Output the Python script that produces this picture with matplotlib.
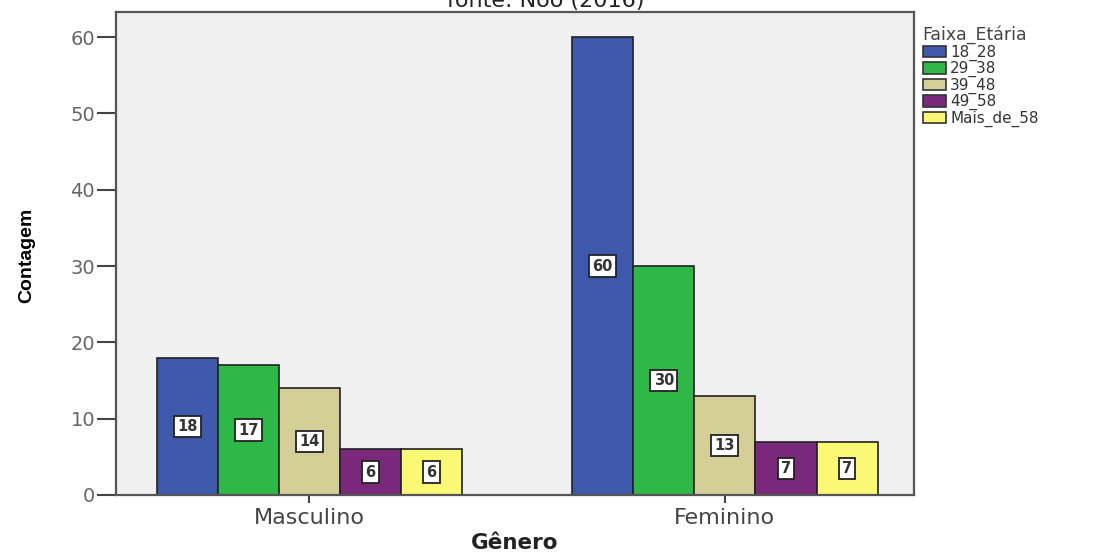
"""
Contagem por gênero e faixa etária (barras agrupadas)
"""

import matplotlib
matplotlib.use('Agg')
import matplotlib.pyplot as plt
from matplotlib.patches import Patch
import numpy as np

plt.rcParams['font.family'] = ['DejaVu Sans']

generos = ['Masculino', 'Feminino']
faixas = ['18_28', '29_38', '39_48', '49_58', 'Mais_de_58']
masculino = [18, 17, 14, 6, 6]
feminino = [60, 30, 13, 7, 7]
cores = ['#3e58ac', '#2eb848', '#d4cf96', '#79287c', '#fbf873']

fig = plt.figure(figsize=(10.93, 5.54), dpi=100)
ax = fig.add_axes([116 / 1093, 59 / 554, (914 - 116) / 1093, (495 - 12) / 554])
ax.set_facecolor('#f0f0f0')

x = np.arange(len(generos))
largura = 0.147
contagens = np.array([masculino, feminino])

for i, (faixa, cor) in enumerate(zip(faixas, cores)):
    pos = x + (i - 2) * largura
    vals = contagens[:, i]
    ax.bar(pos, vals, largura, color=cor, edgecolor='#222222', linewidth=1.2, zorder=2)
    for px, v in zip(pos, vals):
        ax.text(px, v / 2, f'{v}', ha='center', va='center', fontsize=10.5,
                fontweight='bold', color='#333333', zorder=3,
                bbox=dict(boxstyle='square,pad=0.22', facecolor='white',
                          edgecolor='#222222', linewidth=1.3))

ax.set_xlim(-0.465, 1.455)
ax.set_ylim(0, 63.3)
ax.set_yticks(range(0, 61, 10))
ax.set_xticks(x)
ax.set_xticklabels(generos)
ax.tick_params(axis='y', direction='out', length=14, width=1.5, color='#444444',
               labelsize=14, labelcolor='#666666', pad=1)
ax.tick_params(axis='x', direction='out', length=6, width=1.5, color='#444444',
               labelsize=16, labelcolor='#444444', pad=3)

for lado in ['left', 'bottom', 'top', 'right']:
    ax.spines[lado].set_color('#555555')
    ax.spines[lado].set_linewidth(1.6)

ax.set_ylabel('Contagem', fontsize=14, fontweight='bold',
              family=['Liberation Sans Narrow', 'Liberation Sans'])
ax.yaxis.set_label_coords(-0.101, 0.497)
ax.set_xlabel('Gênero', fontsize=15.5, fontweight='bold', color='#222222')
ax.xaxis.set_label_coords(0.5, -0.078)

# Legenda fora da área do gráfico
handles = [Patch(facecolor=c, edgecolor='#333333', linewidth=1.2) for c in cores]
leg = fig.legend(handles, faixas, title='Faixa_Etária', loc='upper left',
                 bbox_to_anchor=(912 / 1093, 1 - 15 / 554), frameon=False,
                 fontsize=11, title_fontsize=12.5, handlelength=1.5, handleheight=0.8,
                 handletextpad=0.3, labelspacing=0.02, borderpad=0.2,
                 alignment='left')
for t in leg.get_texts():
    t.set_color('#333333')
leg.get_title().set_color('#444444')

fig.text(546 / 1093, 1 - 7 / 554, 'fonte: Nóo (2016)', ha='center', va='baseline',
         fontsize=16, color='#222222')

plt.savefig('out.png', dpi=100)
plt.close(fig)
